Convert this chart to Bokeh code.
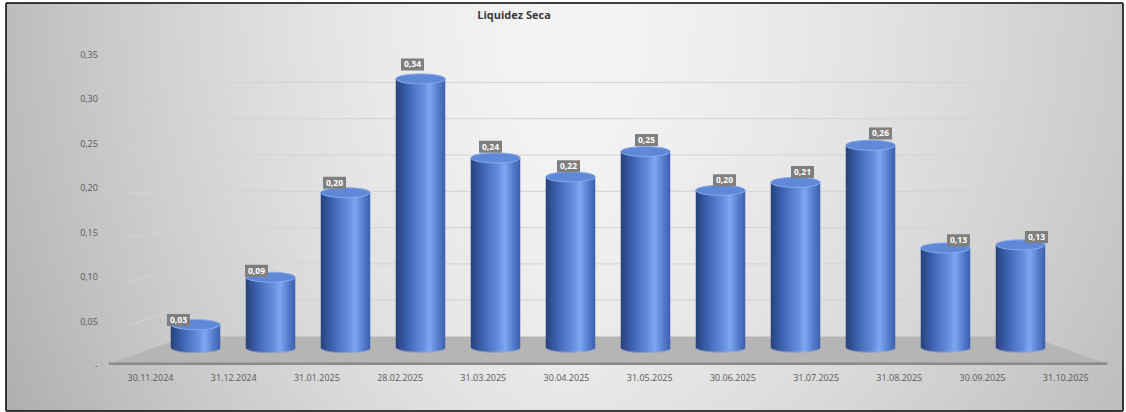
import numpy as np
from bokeh.plotting import figure
from bokeh.models import Range1d, Label
from bokeh.embed import file_html
from bokeh.resources import INLINE
from bokeh.core.properties import value

# ---------------- data ----------------
chart_title = "Liquidez Seca"
dates = ["30.11.2024", "31.12.2024", "31.01.2025", "28.02.2025", "31.03.2025", "30.04.2025",
         "31.05.2025", "30.06.2025", "31.07.2025", "31.08.2025", "30.09.2025", "31.10.2025"]
liquidez = [0.029, 0.089, 0.196, 0.340, 0.240, 0.216, 0.248, 0.199, 0.209, 0.256, 0.126, 0.130]
y_ticks = [0.0, 0.05, 0.10, 0.15, 0.20, 0.25, 0.30, 0.35]
y_tick_labels = ["-", "0,05", "0,10", "0,15", "0,20", "0,25", "0,30", "0,35"]

# ---------------- layout ----------------
W, H = 1126, 412
BL, BR, BT, BB = 6, 4, 3, 2          # white margin around the framed chart
FW, FH = W - BL - BR, H - BT - BB    # frame size
FONT = value("Open Sans")


def rng_x(page_x0, ppu):
    px0 = page_x0 - BL
    return Range1d(start=-px0 / ppu, end=(FW - px0) / ppu)


def rng_y(page_y0, ppu):
    up0 = (H - BB) - page_y0
    return Range1d(start=-up0 / ppu, end=(FH - up0) / ppu)


# pseudo-3D: bars, category labels, value labels, side wall and back wall each have their own scale
BAR_PPU = 790.0
xr_bars = rng_x(195, 75.0)
yr_bars = rng_y(347, BAR_PPU)
xr_cat = rng_x(150, 83.2)
xr_dl = rng_x(178, 78.0)
SIDE_Y0, SIDE_PPU = 365, 888.6
WALL_Y0, WALL_PPU = 336, 726.0
yr_side = rng_y(SIDE_Y0, SIDE_PPU)
yr_wall = rng_y(WALL_Y0, WALL_PPU)
yr_dl = rng_y(343.3, 821.5)

p = figure(width=W, height=H, x_range=xr_bars, y_range=yr_bars,
           output_backend="svg", toolbar_location=None,
           min_border_left=BL, min_border_right=BR, min_border_top=BT, min_border_bottom=BB,
           x_axis_location=None, y_axis_location=None,
           background_fill_color="#e6e6e6", border_fill_color="#ffffff")
p.extra_x_ranges = {"cat": xr_cat, "dl": xr_dl}
p.extra_y_ranges = {"side": yr_side, "wall": yr_wall, "dly": yr_dl}
p.grid.visible = False
p.outline_line_color = "#000000"
p.outline_line_width = 2.5

# ---------------- background gradient ----------------
nx, ny = 280, 100
t = np.linspace(0, 1, nx)[None, :]
s = np.linspace(0, 1, ny)[:, None]
left = 150 * np.clip(0.5 - t, 0, None) ** 1.43
right = 112 * np.clip(t - 0.5, 0, None) ** 1.43
c = 245 - left - right - 14 * (1 - s) ** 2
c = np.clip(c, 0, 255).astype(np.uint8)
img = np.empty((ny, nx), dtype=np.uint32)
view = img.view(dtype=np.uint8).reshape((ny, nx, 4))
view[:, :, 0] = c
view[:, :, 1] = c
view[:, :, 2] = c
view[:, :, 3] = 255
p.image_rgba(image=[img], x=xr_bars.start, y=yr_bars.start,
             dw=xr_bars.end - xr_bars.start, dh=yr_bars.end - yr_bars.start)

# ---------------- back wall gridlines (with side-wall perspective part) ----------------
gx_slant, gx0, gx1 = -0.89, 0.03, 10.9
gxs, gys = [], []
for v in y_ticks[1:]:
    side_page_y = SIDE_Y0 - SIDE_PPU * v + 5
    w_start = (WALL_Y0 - side_page_y) / WALL_PPU
    gxs.append([gx_slant, gx0, gx1])
    gys.append([w_start, v, v])
p.multi_line(xs=gxs, ys=gys, y_range_name="wall", line_color="#d3d3d3", line_width=1)

# ---------------- floor ----------------
DEPTH = 0.925
n_cat = len(dates)
v_back = (SIDE_Y0 - WALL_Y0) / SIDE_PPU
p.patch(x=[-0.5, -0.5 + DEPTH, n_cat - 0.5 - DEPTH, n_cat - 0.5],
        y=[0.002, v_back, v_back, 0.002],
        x_range_name="cat", y_range_name="side",
        fill_color="#b5b5b5", line_color=None)
p.line(x=[-0.5, n_cat - 0.5], y=[0.002, 0.002], x_range_name="cat", y_range_name="side",
       line_color="#8a8a8a", line_width=2.5)

# ---------------- cylinders (shaded body as image, elliptic top) ----------------
BW = 0.66
ELL_PX = 10
E = (ELL_PX / 2) / BAR_PPU
stops_u = [-1.0, -0.55, 0.15, 0.35, 0.7, 1.0]
stops_r = [40, 62, 108, 126, 84, 58]
stops_g = [66, 98, 148, 168, 124, 92]
stops_b = [124, 178, 228, 242, 204, 170]
ncol = 50
u = -1 + (2 * np.arange(ncol) + 1) / ncol
col_r = np.interp(u, stops_u, stops_r)
col_g = np.interp(u, stops_u, stops_g)
col_b = np.interp(u, stops_u, stops_b)
bottom_curve = -E * np.sqrt(np.clip(1 - u * u, 0, None))

bar_imgs, bar_x, bar_y, bar_dh = [], [], [], []
for i, val in enumerate(liquidez):
    dh = val + E
    nrow = max(4, int(round(dh * BAR_PPU * 2)))
    yc = -E + (np.arange(nrow) + 0.5) * dh / nrow
    pix = dh / nrow * 2
    alpha = np.clip((yc[:, None] - bottom_curve[None, :]) / pix + 0.5, 0, 1)
    im = np.empty((nrow, ncol), dtype=np.uint32)
    vw = im.view(dtype=np.uint8).reshape((nrow, ncol, 4))
    vw[:, :, 0] = col_r[None, :].astype(np.uint8)
    vw[:, :, 1] = col_g[None, :].astype(np.uint8)
    vw[:, :, 2] = col_b[None, :].astype(np.uint8)
    vw[:, :, 3] = (alpha * 255).astype(np.uint8)
    bar_imgs.append(im)
    bar_x.append(i - BW / 2)
    bar_y.append(-E)
    bar_dh.append(dh)
p.image_rgba(image=bar_imgs, x=bar_x, y=bar_y, dw=[BW] * n_cat, dh=bar_dh)

idx = list(range(n_cat))
p.ellipse(x=idx, y=liquidez, width=BW, height=ELL_PX, height_units="screen",
          fill_color="#5f88d8", line_color="#88aaea", line_width=1)

# ---------------- data labels ----------------
dl_text = [("%.2f" % v).replace(".", ",") for v in liquidez]
p.text(x=idx, y=liquidez, text=dl_text, x_range_name="dl", y_range_name="dly",
       text_align="center", text_baseline="middle", text_font=FONT,
       text_font_size="8.5px", text_font_style="bold", text_color="#ffffff",
       background_fill_color="#7f7f7f", padding=(3, 3))

# ---------------- category labels ----------------
p.text(x=idx, y=[0] * n_cat, text=dates, x_range_name="cat", y_range_name="side",
       text_align="center", text_baseline="middle", y_offset=12,
       text_font=FONT, text_font_size="9px", text_color="#595959")

# ---------------- value axis labels ----------------
p.text(x=[-0.5] * len(y_ticks), y=y_ticks, text=y_tick_labels, x_range_name="cat",
       y_range_name="side", x_offset=-11, text_align="right", text_baseline="middle",
       text_font=FONT, text_font_size="9px", text_color="#595959")

# ---------------- title ----------------
p.add_layout(Label(x=513.5 - BL, y=(H - BB) - 14, x_units="screen", y_units="screen",
                   text=chart_title, text_align="center", text_baseline="middle",
                   text_font="Open Sans", text_font_size="11px", text_font_style="bold",
                   text_color="#3a3a3a"))

open("out.html", "w").write(file_html(p, INLINE))
